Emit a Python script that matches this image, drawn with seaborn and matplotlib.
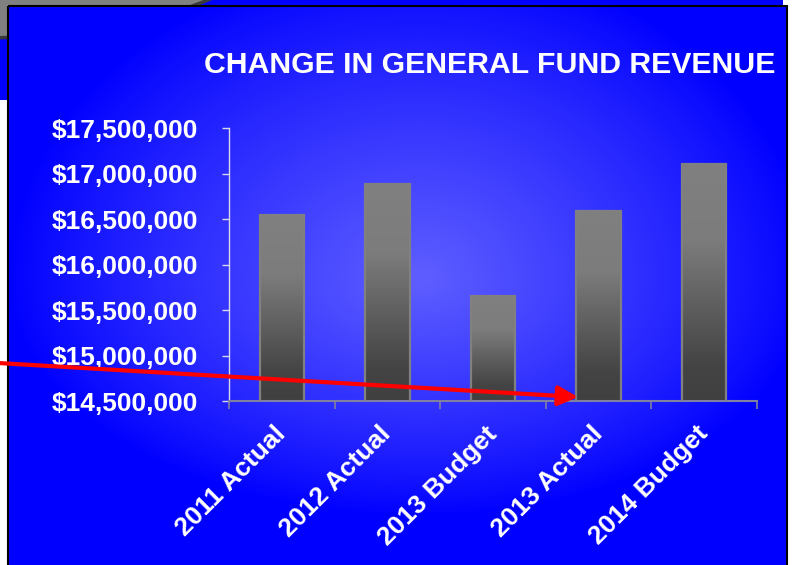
import numpy as np
import pandas as pd
import matplotlib
matplotlib.use("Agg")
import matplotlib.pyplot as plt
import seaborn as sns
from matplotlib.patches import FancyArrowPatch, Rectangle, Ellipse
from matplotlib.colors import LinearSegmentedColormap
from matplotlib.ticker import FuncFormatter, FixedLocator

# ---- data ----
categories = ["2011 Actual", "2012 Actual", "2013 Budget", "2013 Actual", "2014 Budget"]
revenue = [16540000, 16890000, 15650000, 16590000, 17100000]
y_ticks = [14500000, 15000000, 15500000, 16000000, 16500000, 17000000, 17500000]
title = "CHANGE IN GENERAL FUND REVENUE"

W, H = 793, 565
sns.set_theme(style="white")
plt.rcParams["font.family"] = ["Liberation Sans", "DejaVu Sans"]

fig = plt.figure(figsize=(W / 100, H / 100), dpi=100)
fig.patch.set_facecolor("white")

# ---- background decorations (pixel coordinates) ----
bg = fig.add_axes([0, 0, 1, 1])
bg.set_xlim(0, W)
bg.set_ylim(H, 0)
bg.axis("off")
bg.add_patch(Rectangle((0, 0), 783, 100, facecolor="#0000ff", edgecolor="none", zorder=0.5))
bg.add_patch(Ellipse((-20, -80), 620, 236, facecolor="#808080", edgecolor="#3a3a3a",
                     lw=2.5, zorder=0.6))

# radial gradient panel
px0, px1, py0, py1 = 8, 787, 6, 570
xs = np.arange(px0, px1) + 0.5
ys = np.arange(py0, py1) + 0.5
X, Y = np.meshgrid(xs, ys)
cx, cy = 420, 280
rx = np.where(X < cx, 410, 390)
ry = np.where(Y < cy, 320, 235)
d = np.sqrt(((X - cx) / rx) ** 2 + ((Y - cy) / ry) ** 2)
t = np.clip(1 - d, 0, 1) ** 0.85
lo = np.array([0.0, 0.0, 1.0])
hi = np.array([0.37, 0.37, 1.0])
img = lo[None, None, :] + t[..., None] * (hi - lo)[None, None, :]
bg.imshow(img, extent=[px0, px1, py1, py0], aspect="auto", interpolation="bilinear",
          zorder=1)
bg.add_patch(Rectangle((px0, py0), px1 - px0, py1 - py0, facecolor="none",
                       edgecolor="#000000", lw=1.5, zorder=2))
bg.set_xlim(0, W)
bg.set_ylim(H, 0)

# ---- chart ----
ax = fig.add_axes([229 / W, 1 - 401 / H, (757 - 229) / W, (401 - 128) / H])
ax.patch.set_alpha(0)
df = pd.DataFrame({"cat": categories, "rev": revenue})
sns.barplot(data=df, x="cat", y="rev", ax=ax, width=0.42, color="#606060",
            edgecolor="#808080", linewidth=1.6, saturation=1)

ymin, ymax = y_ticks[0], y_ticks[-1]
grad = LinearSegmentedColormap.from_list(
    "g", [(0, "#404040"), (0.15, "#444444"), (0.68, "#7c7c7c"), (1, "#808080")])
for p in list(ax.patches):
    x0 = p.get_x()
    w = p.get_width()
    top = p.get_height()
    arr = np.linspace(0, 1, 256).reshape(-1, 1)
    im = ax.imshow(arr, cmap=grad, extent=[x0, x0 + w, ymin, top], origin="lower",
                   aspect="auto", zorder=2, interpolation="bilinear")
    im.set_clip_path(p)
    p.set_facecolor("none")
    p.set_zorder(3)

ax.set_xlim(-0.5, len(categories) - 0.5)
ax.set_ylim(ymin, ymax)
ax.set_xlabel("")
ax.set_ylabel("")

for s in ["top", "right"]:
    ax.spines[s].set_visible(False)
ax.spines["left"].set_color("#d8d8e8")
ax.spines["left"].set_linewidth(1.0)
ax.spines["bottom"].set_color("#8080a0")
ax.spines["bottom"].set_linewidth(1.5)

ax.yaxis.set_major_locator(FixedLocator(y_ticks))
ax.yaxis.set_major_formatter(FuncFormatter(lambda v, _: f"${v:,.0f}"))
ax.tick_params(axis="y", which="major", direction="out", length=5, width=1,
               color="#d8d8e8", pad=17, labelsize=19, labelcolor="white", left=True)
for lab in ax.get_yticklabels():
    lab.set_fontweight("bold")

ax.set_xticks(range(len(categories)))
ax.set_xticklabels(categories, rotation=45, ha="right", va="center",
                   rotation_mode="anchor", fontsize=19, fontweight="bold", color="white")
ax.tick_params(axis="x", which="major", length=0, pad=21)
ax.set_xticks(np.arange(-0.5, len(categories)), minor=True)
ax.tick_params(axis="x", which="minor", direction="out", length=5.5, width=1.2,
               color="#8080a0", bottom=True)

# ---- title ----
fig.text(490 / W, 1 - 65 / H, title, ha="center", va="center", fontsize=21.8,
         fontweight="bold", color="white")

# ---- red arrow annotation ----
arrow = FancyArrowPatch((-2 / W, 1 - 363 / H), (578 / W, 1 - 397 / H),
                        transform=fig.transFigure,
                        arrowstyle="-|>,head_length=1.2,head_width=0.6",
                        mutation_scale=10, color="#ff0000", lw=3, shrinkA=0, shrinkB=0)
fig.add_artist(arrow)

fig.savefig("out.png", dpi=100, facecolor=fig.get_facecolor())
